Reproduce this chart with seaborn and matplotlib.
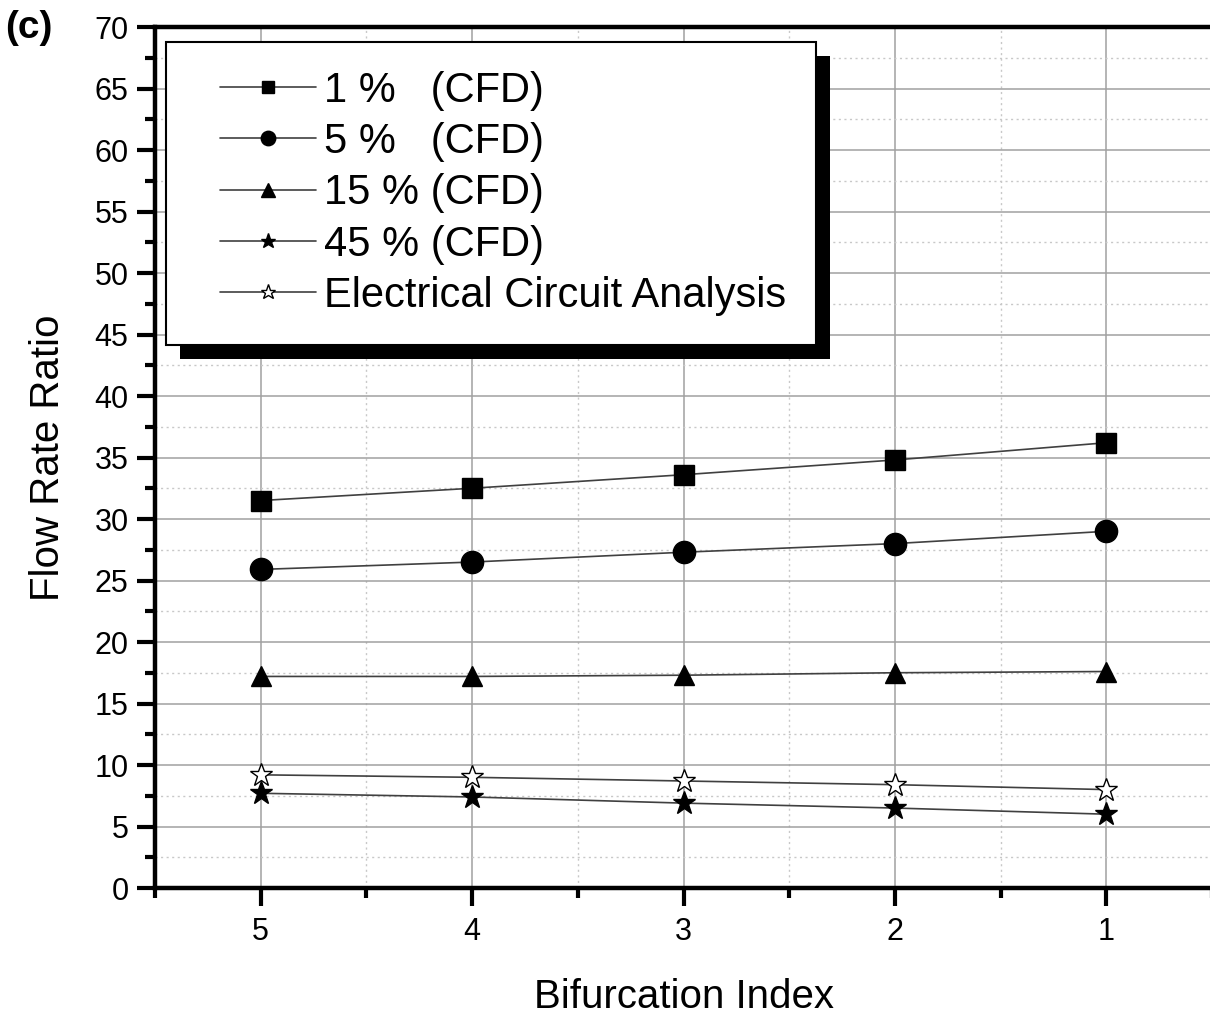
import numpy as np
import pandas as pd
import matplotlib
matplotlib.use("Agg")
import matplotlib.pyplot as plt
import matplotlib.patheffects as pe
from matplotlib.lines import Line2D
from matplotlib.legend_handler import HandlerLine2D
from matplotlib.ticker import MultipleLocator
import seaborn as sns

# datos
bifurcation = [5, 4, 3, 2, 1]
cfd_1 = [31.5, 32.5, 33.6, 34.8, 36.2]
cfd_5 = [25.9, 26.5, 27.3, 28.0, 29.0]
cfd_15 = [17.2, 17.2, 17.3, 17.5, 17.6]
cfd_45 = [7.7, 7.4, 6.9, 6.5, 6.0]
circuit = [9.2, 9.0, 8.7, 8.4, 8.0]

labels = ["1 %   (CFD)", "5 %   (CFD)", "15 % (CFD)", "45 % (CFD)", "Electrical Circuit Analysis"]
series = [cfd_1, cfd_5, cfd_15, cfd_45, circuit]
markers = ["s", "o", "^", "*", "*"]
sizes = [14, 16, 15, 17, 17]
faces = ["black", "black", "black", "black", "white"]

sns.set_theme(style="white")
plt.rcParams["font.family"] = ["Liberation Sans", "DejaVu Sans"]
plt.rcParams["text.color"] = "black"
plt.rcParams["axes.labelcolor"] = "black"
plt.rcParams["xtick.color"] = "black"
plt.rcParams["ytick.color"] = "black"

fig = plt.figure(figsize=(12.1, 10.21), dpi=100)
ax = fig.add_axes([155 / 1210, 1 - 888 / 1021, (1212 - 155) / 1210, (888 - 27) / 1021])

for vals, lab, m, ms, fc in zip(series, labels, markers, sizes, faces):
    df = pd.DataFrame({"x": bifurcation, "y": vals})
    sns.lineplot(data=df, x="x", y="y", ax=ax, color="#404040", lw=1.2,
                 marker=m, markersize=ms, markerfacecolor=fc,
                 markeredgecolor="black", markeredgewidth=1.0, label=lab)

ax.set_xlim(5.5, 0.5)
ax.set_ylim(0, 70)
ax.xaxis.set_major_locator(MultipleLocator(1))
ax.xaxis.set_minor_locator(MultipleLocator(0.5))
ax.yaxis.set_major_locator(MultipleLocator(5))
ax.yaxis.set_minor_locator(MultipleLocator(2.5))

ax.grid(True, which="major", color="#a0a0a0", lw=1.1, ls="-")
ax.grid(True, which="minor", color="#c8c8c8", lw=1.0, ls=(0, (1.5, 2.5)))
ax.set_axisbelow(True)

for s in ["left", "bottom", "top"]:
    ax.spines[s].set_visible(True)
    ax.spines[s].set_linewidth(3.2)
    ax.spines[s].set_color("black")
ax.spines["right"].set_visible(False)

ax.tick_params(axis="both", which="major", direction="out", length=13, width=3,
               color="black", labelsize=22, left=True, bottom=True)
ax.tick_params(axis="both", which="minor", direction="out", length=7, width=3,
               color="black", left=True, bottom=True)
ax.tick_params(axis="x", which="major", pad=8)
ax.tick_params(axis="y", which="major", pad=6)

ax.set_xlabel("Bifurcation Index", fontsize=29, labelpad=22)
ax.set_ylabel("Flow Rate Ratio", fontsize=29, labelpad=20)

leg = ax.legend(loc="upper left", bbox_to_anchor=(0.0105, 0.983), fontsize=30,
                frameon=True, fancybox=False, edgecolor="black", framealpha=1,
                markerscale=0.65, handlelength=2.9, handletextpad=0.2,
                labelspacing=0.27, borderpad=0.7, borderaxespad=0,
                handler_map={Line2D: HandlerLine2D(xpad=0.6)})
leg.get_frame().set_linewidth(1.5)
leg.get_frame().set_path_effects([
    pe.SimplePatchShadow(offset=(10, -10), shadow_rgbFace="black", alpha=1.0),
    pe.Normal()])

fig.text(5 / 1210, 1 - 28 / 1021, "(c)", fontsize=28, fontweight="bold", va="center", ha="left")

plt.savefig("out.png", dpi=100)
plt.close()
